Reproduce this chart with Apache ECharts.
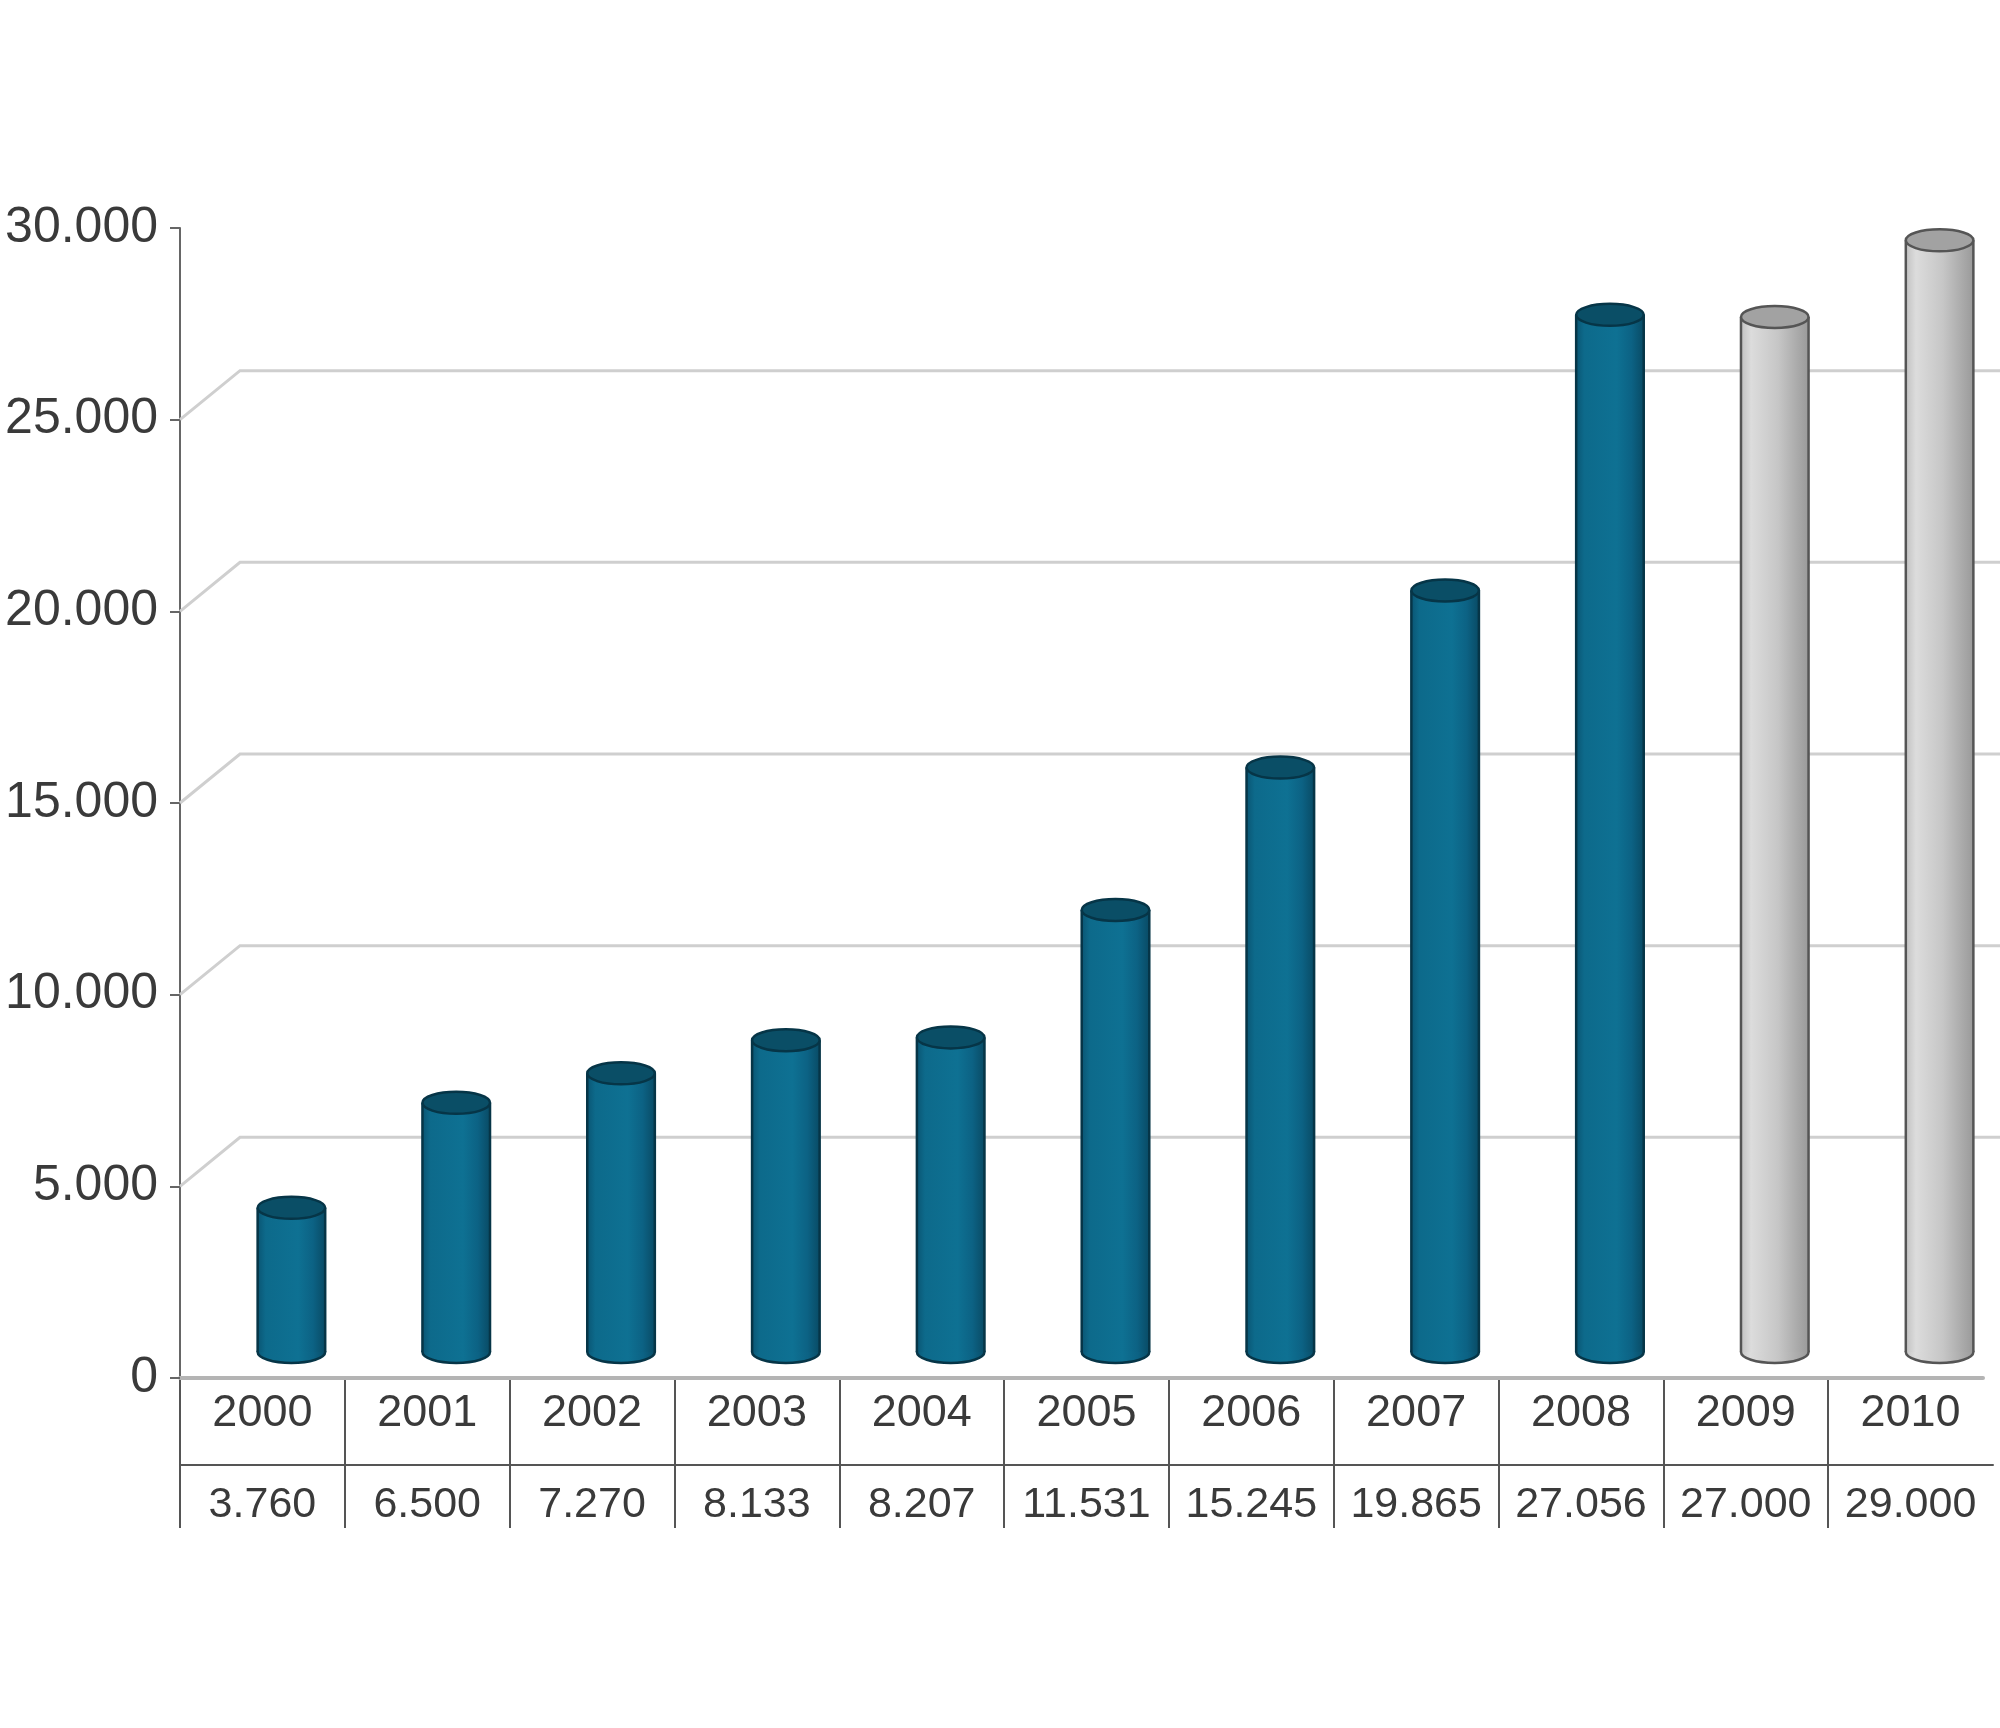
<!DOCTYPE html>
<html lang="de">
<head>
  <meta charset="UTF-8">
  <title>Entwicklung 2000-2010</title>
  <script src="https://cdn.jsdelivr.net/npm/echarts@6.0.0/dist/echarts.min.js"></script>
  <style>
    html, body { margin: 0; padding: 0; background: #fff; }
    #chart { width: 2000px; height: 1728px; }
  </style>
</head>
<body>
  <div id="chart"></div>
  <script>
    // --- Daten ---
    const years = ['2000', '2001', '2002', '2003', '2004', '2005', '2006', '2007', '2008', '2009', '2010'];
    const values = [3760, 6500, 7270, 8133, 8207, 11531, 15245, 19865, 27056, 27000, 29000];
    // 2009 und 2010 sind Prognosewerte (grau)
    const isForecast = [false, false, false, false, false, false, false, false, false, true, true];
    // Linien an der Rückwand
    const wallTicks = [5000, 10000, 15000, 20000, 25000];

    const FONT = "'Liberation Sans', Arial, sans-serif";
    const TEXT = '#3a3a3a';
    const DEPTH_X = 60, DEPTH_Y = 49;

    const fmt = (v) => String(v).replace(/\B(?=(\d{3})+(?!\d))/g, '.');

    const palettes = {
      actual: {
        stops: [
          { offset: 0, color: '#0a5674' },
          { offset: 0.12, color: '#0d6a8b' },
          { offset: 0.6, color: '#0e7193' },
          { offset: 0.82, color: '#0c6284' },
          { offset: 1, color: '#094b65' }
        ],
        edge: '#063547',
        cap: '#0a4e66'
      },
      forecast: {
        stops: [
          { offset: 0, color: '#c2c2c2' },
          { offset: 0.15, color: '#dcdcdc' },
          { offset: 0.55, color: '#c6c6c6' },
          { offset: 1, color: '#9a9a9a' }
        ],
        edge: '#555',
        cap: '#a2a2a2'
      }
    };

    const chart = echarts.init(document.getElementById('chart'));

    // Rückwand: Diagonale vom Tick + waagerechte Linie
    function renderWall(params, api) {
      const y = api.coord([0, api.value(1)])[1];
      const cs = params.coordSys;
      const x0 = cs.x;
      return {
        type: 'polyline',
        shape: { points: [[x0, y], [x0 + DEPTH_X, y - DEPTH_Y], [cs.x + cs.width + 20, y - DEPTH_Y]] },
        style: { stroke: '#cfcfcf', lineWidth: 3, fill: null }
      };
    }

    // Zylinder
    function renderCylinder(params, api) {
      const i = api.value(0);
      const top = api.coord([i, api.value(1)]);
      const base = api.coord([i, 0]);
      const w = api.size([1, 0])[0] * 0.41;
      const rx = w / 2, ry = 11;
      const pal = isForecast[i] ? palettes.forecast : palettes.actual;
      const grad = new echarts.graphic.LinearGradient(0, 0, 1, 0, pal.stops);
      return {
        type: 'group',
        children: [
          { type: 'ellipse', shape: { cx: base[0], cy: base[1], rx: rx, ry: ry }, style: { fill: grad, stroke: pal.edge, lineWidth: 2.5 } },
          { type: 'rect', shape: { x: top[0] - rx, y: top[1], width: w, height: base[1] - top[1] }, style: { fill: grad } },
          { type: 'line', shape: { x1: top[0] - rx, y1: top[1], x2: base[0] - rx, y2: base[1] }, style: { stroke: pal.edge, lineWidth: 2.5 } },
          { type: 'line', shape: { x1: top[0] + rx, y1: top[1], x2: base[0] + rx, y2: base[1] }, style: { stroke: pal.edge, lineWidth: 2.5 } },
          { type: 'ellipse', shape: { cx: top[0], cy: top[1], rx: rx, ry: ry }, style: { fill: pal.cap, stroke: pal.edge, lineWidth: 2.5 } }
        ]
      };
    }

    const tableLine = { show: true, interval: 0, showMaxLine: false, lineStyle: { color: '#555', width: 2 } };

    const option = {
      backgroundColor: '#fff',
      animation: false,
      grid: [
        { left: 180, top: 228, width: 1803, height: 1150, outerBoundsMode: 'none' },   // vordere Achse
        { left: 209, top: 202, width: 1813, height: 1150, outerBoundsMode: 'none' },   // Zylinder (mittlere Tiefe)
        { left: 180, top: 1378, width: 1813, height: 87, outerBoundsMode: 'none' },    // Tabelle: Jahre
        { left: 180, top: 1465, width: 1813, height: 63, outerBoundsMode: 'none' }     // Tabelle: Werte
      ],
      xAxis: [
        {
          gridIndex: 0, type: 'category', data: years,
          axisLine: { lineStyle: { color: '#b4b4b4', width: 4 } },
          axisTick: { show: false }, axisLabel: { show: false }
        },
        { gridIndex: 1, type: 'category', data: years, show: false },
        {
          gridIndex: 2, type: 'category', data: years, position: 'bottom',
          axisLine: { lineStyle: { color: '#555', width: 2 } },
          axisTick: { show: false },
          axisLabel: { inside: true, interval: 0, margin: 51, verticalAlign: 'middle', fontSize: 45, fontFamily: FONT, color: TEXT },
          splitLine: tableLine
        },
        {
          gridIndex: 3, type: 'category', data: years, position: 'top',
          axisLine: { show: false },
          axisTick: { show: false },
          axisLabel: {
            inside: true, interval: 0, margin: 40, verticalAlign: 'middle', fontSize: 43, fontFamily: FONT, color: TEXT,
            formatter: (val, idx) => fmt(values[idx])
          },
          splitLine: tableLine
        }
      ],
      yAxis: [
        {
          gridIndex: 0, type: 'value', min: 0, max: 30000, interval: 5000,
          axisLine: { show: true, lineStyle: { color: '#666', width: 2 } },
          axisTick: { show: true, length: 10, lineStyle: { color: '#666', width: 2 } },
          axisLabel: { margin: 22, fontSize: 50, fontFamily: FONT, color: TEXT, formatter: fmt },
          splitLine: { show: false }
        },
        { gridIndex: 1, type: 'value', min: 0, max: 30000, show: false },
        { gridIndex: 2, type: 'value', show: false },
        { gridIndex: 3, type: 'value', show: false }
      ],
      series: [
        {
          type: 'custom', name: 'wall', silent: true, z: 1,
          xAxisIndex: 0, yAxisIndex: 0,
          data: wallTicks.map((v) => [0, v]),
          renderItem: renderWall
        },
        {
          type: 'custom', name: 'Werte', z: 5,
          xAxisIndex: 1, yAxisIndex: 1,
          data: values.map((v, i) => [i, v]),
          renderItem: renderCylinder
        }
      ]
    };

    chart.setOption(option);
  </script>
</body>
</html>
